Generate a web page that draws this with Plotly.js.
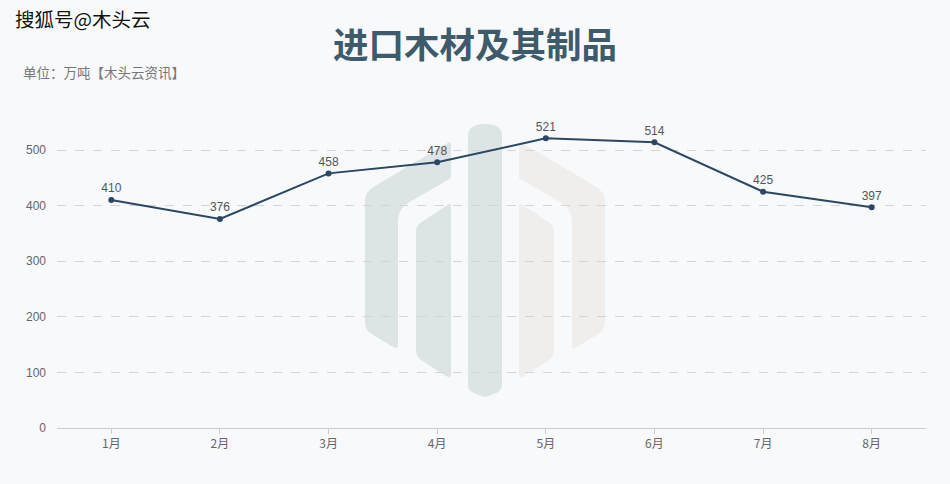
<!DOCTYPE html>
<html>
<head>
<meta charset="utf-8">
<script src="https://cdn.plot.ly/plotly-3.0.1.min.js"></script>
<style>html,body{margin:0;padding:0;background:#f8f9fb;}#chart{width:950px;height:484px;}</style>
</head>
<body>
<div id="chart"></div>
<script>
const months = ["1月","2月","3月","4月","5月","6月","7月","8月"];
const imports = [410, 376, 458, 478, 521, 514, 425, 397];
const yTicks = [0, 100, 200, 300, 400, 500];

const W = 950, H = 484;
const L = 57, R = 926, T = 100, B = 428;
function px(x){ return ((x - L) / (R - L)).toFixed(4); }
function py(y){ return ((B - y) / (B - T)).toFixed(4); }
function toPath(cmds){
  return cmds.map(c => {
    const op = c[0];
    const pts = [];
    for (let i = 1; i < c.length; i += 2) pts.push(px(c[i]) + "," + py(c[i+1]));
    return op + pts.join(" ");
  }).join(" ") + " Z";
}
function mirror(cmds){
  return cmds.map(c => { const o=[c[0]]; for(let i=1;i<c.length;i+=2){o.push(970-c[i], c[i+1]);} return o; });
}
const pill = [["M",468,136],["Q",468,124,485,124],["Q",502,124,502,136],["L",502,386],["Q",502,391,494,394],["L",485,397],["L",476,394],["Q",468,391,468,386]];
const outerL = [["M",451,144],["L",451,178],["L",408,203],["Q",398,209,398,222],["L",398,345],["Q",398,350,393,347],["L",370,333],["Q",365,329,365,321],["L",365,201],["Q",365,192,375,186],["L",446,144],["Q",451,141,451,144]];
const innerL = [["M",451,205],["L",451,374],["Q",451,379,446,376],["L",421,360],["Q",416,356,416,349],["L",416,232],["Q",416,225,423,221],["L",446,206],["Q",451,202,451,205]];
const shapes = [
  {type:"path", xref:"paper", yref:"paper", path: toPath(pill), fillcolor:"#dde4e6", line:{width:0}, layer:"below"},
  {type:"path", xref:"paper", yref:"paper", path: toPath(outerL), fillcolor:"#dde4e6", line:{width:0}, layer:"below"},
  {type:"path", xref:"paper", yref:"paper", path: toPath(innerL), fillcolor:"#dde4e6", line:{width:0}, layer:"below"},
  {type:"path", xref:"paper", yref:"paper", path: toPath(mirror(outerL)), fillcolor:"#efeeec", line:{width:0}, layer:"below"},
  {type:"path", xref:"paper", yref:"paper", path: toPath(mirror(innerL)), fillcolor:"#efeeec", line:{width:0}, layer:"below"}
];

const trace = {
  type:"scatter", mode:"lines+markers+text",
  x: months, y: imports,
  text: imports.map(String), textposition:"top center",
  textfont:{family:"Liberation Sans, Arial, sans-serif", size:12, color:"#555"},
  line:{color:"#2b4763", width:2},
  marker:{color:"#2b4763", size:6},
  cliponaxis:false, hoverinfo:"skip"
};

const layout = {
  width: W, height: H,
  paper_bgcolor:"#f8f9fb", plot_bgcolor:"#f8f9fb",
  margin:{l:L, r:W-R, t:T, b:H-B, pad:0},
  showlegend:false,
  font:{family:"Noto Sans CJK SC, sans-serif", color:"#666"},
  xaxis:{
    type:"category", range:[-0.5, 7.5], showgrid:false, zeroline:false,
    showline:true, linecolor:"#cccccc", linewidth:1,
    ticks:"outside", ticklen:5, tickcolor:"#cccccc",
    tickfont:{family:"Noto Sans CJK SC, sans-serif", size:12, color:"#666"}, fixedrange:true
  },
  yaxis:{
    range:[0, 590], tickvals:yTicks, ticktext:yTicks.map(String),
    showgrid:true, gridcolor:"#d4d4d4", griddash:"dash", gridwidth:1,
    zeroline:false, showline:false, ticks:"", ticklabelstandoff:10,
    tickfont:{family:"Liberation Sans, Arial, sans-serif", size:12, color:"#666"}, fixedrange:true
  },
  shapes: shapes,
  annotations:[
    {text:"进口木材及其制品", xref:"paper", yref:"paper", x:px(475), y:py(43), xanchor:"center", yanchor:"middle", showarrow:false,
     font:{family:"Noto Sans CJK SC, sans-serif", size:35.5, color:"#3d5b6b", weight:700}},
    {text:"单位：万吨【木头云资讯】", xref:"paper", yref:"paper", x:px(21), y:py(72), xanchor:"left", yanchor:"middle", showarrow:false,
     font:{family:"Noto Sans CJK SC, sans-serif", size:13.5, color:"#777"}},
    {text:"搜狐号@木头云", xref:"paper", yref:"paper", x:px(13), y:py(18), xanchor:"left", yanchor:"middle", showarrow:false,
     font:{family:"Noto Sans CJK SC, sans-serif", size:19.5, color:"#111", shadow:"1px 1px 0 #fff, -1px -1px 0 #fff"}}
  ]
};
Plotly.newPlot("chart", [trace], layout, {staticPlot:true, displayModeBar:false});
</script>
</body>
</html>
